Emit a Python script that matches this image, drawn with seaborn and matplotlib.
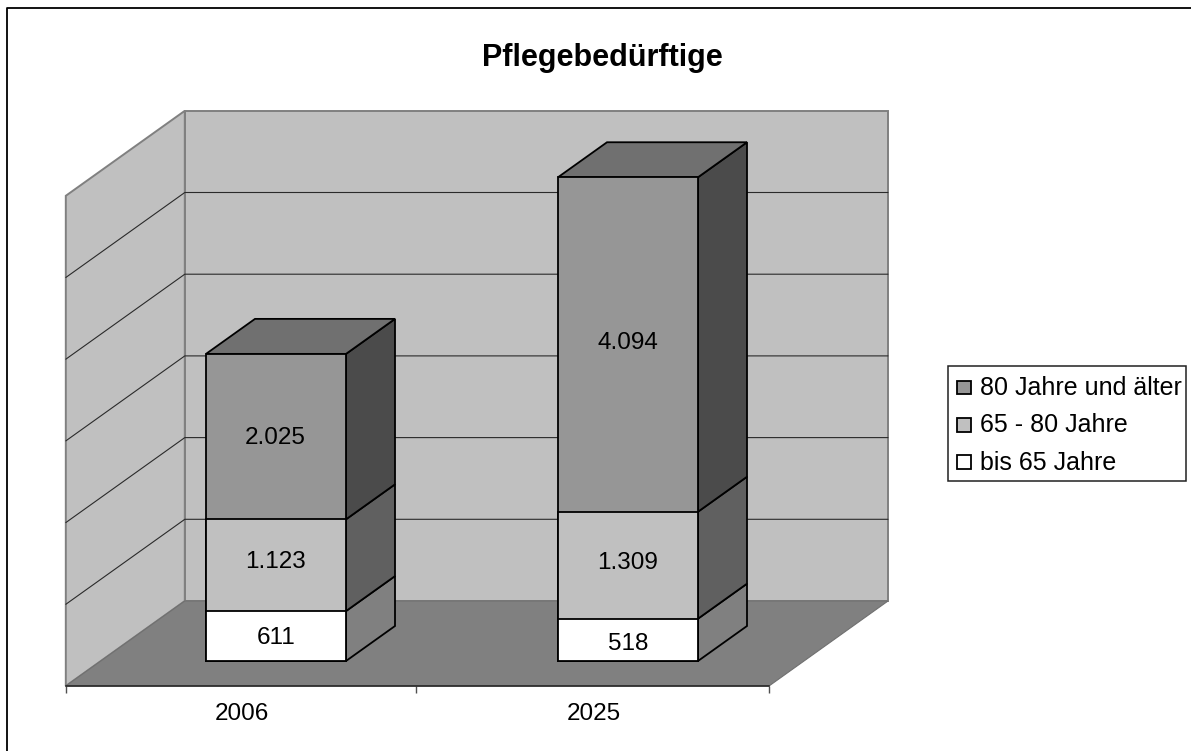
import numpy as np
import pandas as pd
import seaborn as sns
import matplotlib
matplotlib.use("Agg")
import matplotlib.pyplot as plt
from matplotlib.patches import Polygon, Patch, Rectangle
from matplotlib.lines import Line2D
from matplotlib.legend_handler import HandlerPatch

TITLE = "Pflegebedürftige"
YEARS = ["2006", "2025"]
BIS_65 = [611, 518]
V65_80 = [1123, 1309]
AB_80 = [2025, 4094]
SERIES_NAMES = ["bis 65 Jahre", "65 - 80 Jahre", "80 Jahre und älter"]
VALUE_LABELS = [["611", "518"], ["1.123", "1.309"], ["2.025", "4.094"]]
GRID_VALUES = [0, 1000, 2000, 3000, 4000, 5000, 6000]

FRONT = ["#FFFFFF", "#C0C0C0", "#969696"]
SIDE = ["#808080", "#606060", "#4B4B4B"]
TOP = "#707070"

W, H = 1191, 751
sns.set_theme(style="white")
plt.rcParams["font.family"] = ["Liberation Sans", "DejaVu Sans"]
fig = plt.figure(figsize=(W / 100, H / 100), dpi=100, facecolor="white")
ax = fig.add_axes([0, 0, 1, 1])

# scale of the picture
PX_CAT = 352.0       # px between categories
PX_K = 0.0817        # px per unit value
X0_PX, Y0_PX = 276.0, 661.0

BAR_W = 140 / PX_CAT
DX, DY = 49 / PX_CAT, 35 / PX_K            # bar depth
FX, FY = 35 / PX_CAT, 25 / PX_K            # floor front edge to bar front
BX, BY = 84 / PX_CAT, 60 / PX_K            # bar front to back wall  (119,85 total)
xl, xr = -FX - 0.5 + 0.8 / PX_CAT, -FX + 1.5   # floor front edge, in category units
yf = -FY                                    # floor front edge, in value units
EDGE = 1.3
# nudges of the value labels, px (right, down), by series and bar
LABEL_NUDGE = [[(0, 2), (0, 4)], [(0, -3), (0, -2)], [(-1, 1), (0, -1)]]


def poly(pts, fc, ec="none", lw=0, z=1):
    ax.add_patch(Polygon(pts, closed=True, facecolor=fc, edgecolor=ec, linewidth=lw,
                         zorder=z, joinstyle="miter"))


ymax = GRID_VALUES[-1]
back_x0, back_x1 = xl + FX + BX, xr + FX + BX
# back wall, left wall, floor
poly([(back_x0, BY), (back_x1, BY), (back_x1, BY + ymax), (back_x0, BY + ymax)], "#C0C0C0", "#808080", 1.4, 1)
poly([(xl, yf), (back_x0, BY), (back_x0, BY + ymax), (xl, yf + ymax)], "#C0C0C0", "#808080", 1.4, 1)
poly([(xl, yf), (xr, yf), (back_x1, BY), (back_x0, BY)], "#808080", "#707070", 0.8, 1.5)
for g in GRID_VALUES[1:-1]:
    ax.plot([xl, back_x0, back_x1], [yf + g, BY + g, BY + g], color="#2A2A2A", lw=0.8, zorder=2)

# stacked fronts, drawn from the tallest cumulative value downward
stack = np.cumsum([BIS_65, V65_80, AB_80], axis=0)
for s in (2, 1, 0):
    df = pd.DataFrame({"Jahr": YEARS, "Wert": stack[s]})
    sns.barplot(data=df, x="Jahr", y="Wert", color=FRONT[s], saturation=1, width=BAR_W,
                edgecolor="black", linewidth=EDGE, zorder=5, ax=ax, order=YEARS)

# side and top faces
for i in range(len(YEARS)):
    x1 = i + BAR_W / 2
    x0 = i - BAR_W / 2
    bottoms = [0, stack[0][i], stack[1][i]]
    for s in range(3):
        b, t = bottoms[s], stack[s][i]
        poly([(x1, b), (x1 + DX, b + DY), (x1 + DX, t + DY), (x1, t)], SIDE[s], "black", EDGE, 4)
    t = stack[2][i]
    poly([(x0, t), (x1, t), (x1 + DX, t + DY), (x0 + DX, t + DY)], TOP, "black", EDGE, 4)

# value labels
for s in range(3):
    bottoms = stack[s - 1] if s else np.zeros(2)
    for i in range(2):
        nx, ny = LABEL_NUDGE[s][i]
        ax.text(i + nx / PX_CAT, (bottoms[i] + stack[s][i]) / 2 - ny / PX_K, VALUE_LABELS[s][i],
                ha="center", va="center", fontsize=17.5, color="black", zorder=6)

# limits must follow the barplot calls, which reset them
ax.set_xlim(-X0_PX / PX_CAT, (W - X0_PX) / PX_CAT)
ax.set_ylim((Y0_PX - H) / PX_K, Y0_PX / PX_K)

# axis on the front edge of the floor
for k, sp in ax.spines.items():
    sp.set_visible(False)
ax.spines["bottom"].set_visible(True)
ax.spines["bottom"].set_position(("data", yf))
ax.spines["bottom"].set_bounds(xl, xr)
ax.spines["bottom"].set_color("#202020")
ax.spines["bottom"].set_linewidth(1.1)
ax.spines["bottom"].set_zorder(3)
ax.set_xticks([i - FX + 0.5 / PX_CAT for i in range(2)], YEARS)
ax.set_xticks([xl, xl + 350 / PX_CAT, xr], minor=True)
ax.tick_params(axis="x", which="major", length=0, pad=12, labelsize=17.5, labelcolor="black")
ax.tick_params(axis="x", which="minor", length=5, width=1, color="#505050", bottom=True)
ax.set_yticks([])
ax.set_xlabel("")
ax.set_ylabel("")
ax.patch.set_visible(False)

ax.text(602 / W, 1 - 58 / H, TITLE, transform=ax.transAxes, ha="center", va="center",
        fontsize=22, fontweight="bold", color="black")


# legend: frame drawn separately so that the side and top paddings can differ
def small_square(legend, orig_handle, xdescent, ydescent, width, height, fontsize):
    side = 13.5 * 72 / 100
    return Rectangle((width - side - xdescent, (height - side) / 2 - ydescent - 1), side, side)


ax.add_patch(Rectangle((948 / W, 1 - 481 / H), 238 / W, 115 / H, transform=ax.transAxes,
                       facecolor="white", edgecolor="#202020", linewidth=1.1, zorder=7))
handles = [Patch(facecolor=FRONT[s], edgecolor="black", linewidth=1.3, label=SERIES_NAMES[s]) for s in (2, 1, 0)]
leg = ax.legend(handles=handles, loc="upper left", bbox_to_anchor=(953 / W, 1 - 376 / H),
                bbox_transform=ax.transAxes, fontsize=18, frameon=False,
                handlelength=0.71, handleheight=0.62, handletextpad=0.37, labelspacing=0.53,
                borderpad=0, borderaxespad=0, labelcolor="black",
                handler_map={Patch: HandlerPatch(patch_func=small_square)})
leg.set_zorder(8)

# chart frame: only top and left edges are inside the picture
fig.add_artist(Line2D([7 / W, 7 / W, 1], [0, 1 - 8 / H, 1 - 8 / H], transform=fig.transFigure,
                      color="black", lw=1.3))

fig.savefig("out.png", dpi=100, facecolor="white")
